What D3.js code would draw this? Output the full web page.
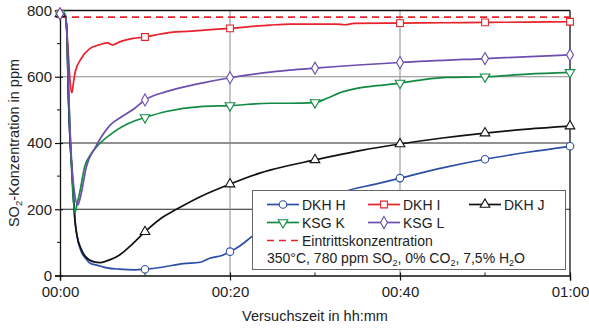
<!DOCTYPE html>
<html>
<head>
<meta charset="utf-8">
<script src="https://cdn.jsdelivr.net/npm/d3@7"></script>
<style>
  body { margin: 0; background: #fff; }
  svg { font-family: "Liberation Sans", Arial, sans-serif; }
</style>
</head>
<body>
<svg id="chart" width="589" height="328"></svg>
<script>
// Time in minutes, SO2 concentration in ppm
const hTime = [0, 0.6, 0.8, 1.0, 1.2, 1.4, 1.6, 1.75, 2.0, 2.5, 3.0, 3.5, 4.5, 5.5, 7.0, 8.8, 10, 12, 14.5, 16.5, 17.6, 19.2, 20, 21.2, 22.7, 26, 30, 34.1, 37, 40, 45, 50, 55, 60];
const hVal  = [790, 788, 740, 530, 400, 320, 230, 170, 120, 72, 52, 38, 30, 23, 19, 17, 19, 25, 36, 40, 52, 62, 72, 90, 120, 165, 210, 258, 275, 294, 325, 351, 372, 390];

const iTime = [0, 0.6, 0.8, 1.0, 1.2, 1.4, 1.6, 1.8, 2.5, 3.5, 4.7, 5.6, 6.2, 7.1, 8.6, 10, 11.8, 13.3, 15, 17, 20, 24.7, 27, 32.5, 33.5, 34.6, 40, 45, 50, 55, 60];
const iVal  = [790, 788, 740, 660, 580, 552, 585, 615, 655, 685, 697, 702, 696, 706, 716, 720, 729, 735, 737, 741, 746, 756, 759, 759, 757, 761, 762, 763, 764, 765, 766];

const jTime = [0, 0.6, 0.8, 1.0, 1.2, 1.4, 1.6, 1.75, 2.0, 2.5, 3.0, 4.0, 4.7, 5.5, 6.3, 7.0, 8.6, 10, 12.2, 13.7, 16.5, 20, 23.5, 24.7, 30, 35.3, 40, 45, 50, 55, 60];
const jVal  = [790, 788, 740, 530, 400, 320, 230, 170, 120, 80, 57, 41, 39, 44, 52, 62, 97, 132, 178, 200, 238, 276, 309, 318, 349, 377, 397, 415, 430, 442, 451];

const kTime = [0, 0.6, 0.8, 1.0, 1.2, 1.4, 1.6, 1.75, 2.0, 2.3, 2.9, 3.7, 4.5, 6.1, 8.8, 10, 12.5, 16.5, 20, 24.7, 27, 30, 31.4, 33.3, 34.9, 37.3, 40, 42.4, 45.5, 50, 55, 60];
const kVal  = [790, 788, 740, 560, 420, 300, 220, 190, 215, 248, 328, 369, 394, 429, 467, 477, 495, 510, 513, 520, 520, 522, 535, 555, 565, 573, 581, 590, 598, 600, 608, 613];

const lTime = [0, 0.6, 0.8, 1.0, 1.2, 1.4, 1.7, 2.1, 2.5, 3.1, 4.1, 5.9, 7.3, 8.8, 10, 12.5, 16.5, 20, 25, 27, 30, 40, 50, 60];
const lVal  = [790, 788, 740, 570, 430, 330, 250, 213, 248, 328, 384, 454, 480, 505, 530, 555, 580, 597, 615, 620, 626, 643, 655, 666];

const inletLevel = 780;
const seriesNames = ["DKH H", "DKH I", "DKH J", "KSG K", "KSG L"];
const xTicks = [0, 20, 40, 60];
const xMinorTicks = [10, 30, 50];
const yTicks = [0, 200, 400, 600, 800];
const yMinorTicks = [100, 300, 500, 700];
const markerTimes = [0, 10, 20, 30, 40, 50, 60];

const series = [
  { name: seriesNames[0], t: hTime, v: hVal, color: "#2c4fa6", symbol: d3.symbolCircle, size: 44 },
  { name: seriesNames[1], t: iTime, v: iVal, color: "#e8212b", symbol: d3.symbolSquare, size: 46 },
  { name: seriesNames[2], t: jTime, v: jVal, color: "#111111", symbol: d3.symbolTriangle, size: 40 },
  { name: seriesNames[3], t: kTime, v: kVal, color: "#138a43", symbol: d3.symbolTriangle, size: 40, flip: true },
  { name: seriesNames[4], t: lTime, v: lVal, color: "#6d4db0", symbol: d3.symbolDiamond, size: 42 }
];

const svg = d3.select("#chart");
const pLeft = 60, pRight = 570, pTop = 10.5, pBottom = 275.5;

const x = d3.scaleLinear().domain([0, 60]).range([pLeft, pRight]);
const y = d3.scaleLinear().domain([0, 800]).range([pBottom, pTop]);

const fmt = m => {
  const h = Math.floor(m / 60), mm = m % 60;
  return String(h).padStart(2, "0") + ":" + String(mm).padStart(2, "0");
};

// grid
const g = svg.append("g");
g.selectAll(".hg").data([200, 400, 600]).join("line")
  .attr("x1", pLeft).attr("x2", pRight)
  .attr("y1", d => y(d)).attr("y2", d => y(d))
  .attr("stroke", d => d === 600 ? "#8a8a8a" : "#222").attr("stroke-width", 1);
g.selectAll(".vg").data([20, 40]).join("line")
  .attr("x1", d => x(d)).attr("x2", d => x(d))
  .attr("y1", pTop).attr("y2", pBottom)
  .attr("stroke", "#8a8a8a").attr("stroke-width", 1);

// frame top/right
svg.append("line").attr("x1", pLeft).attr("x2", pRight).attr("y1", y(800)).attr("y2", y(800)).attr("stroke", "#111").attr("stroke-width", 1.3);
svg.append("line").attr("x1", pRight).attr("x2", pRight).attr("y1", pTop).attr("y2", pBottom).attr("stroke", "#111").attr("stroke-width", 1.3);

// axes
const xAxis = d3.axisBottom(x).tickValues(xTicks).tickFormat(fmt).tickSize(5).tickPadding(6);
const gx = svg.append("g").attr("transform", `translate(0,${pBottom})`).call(xAxis);
gx.selectAll("text").attr("font-size", 15).attr("fill", "#222").attr("font-family", "Liberation Sans, Arial, sans-serif");
gx.select(".domain").attr("stroke", "#111").attr("stroke-width", 1.3);
gx.selectAll(".tick line").attr("y1", -3).attr("stroke", "#111").attr("stroke-width", 1.2);
svg.append("g").selectAll("line").data(xMinorTicks).join("line")
  .attr("x1", d => x(d)).attr("x2", d => x(d)).attr("y1", pBottom - 3).attr("y2", pBottom)
  .attr("stroke", "#111");

const yAxis = d3.axisLeft(y).tickValues(yTicks).tickSize(5).tickPadding(3);
const gy = svg.append("g").attr("transform", `translate(${pLeft},0)`).call(yAxis);
gy.selectAll("text").attr("font-size", 15).attr("fill", "#222").attr("font-family", "Liberation Sans, Arial, sans-serif");
gy.select(".domain").attr("stroke", "#111").attr("stroke-width", 1.3);
gy.selectAll(".tick line").attr("x1", 3).attr("stroke", "#111").attr("stroke-width", 1.2);
svg.append("g").selectAll("line").data(yMinorTicks).join("line")
  .attr("x1", pLeft - 3).attr("x2", pLeft).attr("y1", d => y(d)).attr("y2", d => y(d))
  .attr("stroke", "#111");

// inlet concentration
svg.append("line").attr("x1", pLeft).attr("x2", pRight)
  .attr("y1", y(inletLevel)).attr("y2", y(inletLevel))
  .attr("stroke", "#e8212b").attr("stroke-width", 1.6).attr("stroke-dasharray", "7,5");

// curves
const line = d3.line().x(d => x(d[0])).y(d => y(d[1])).curve(d3.curveMonotoneX);
const plot = svg.append("g");
series.forEach(s => {
  const pts = s.t.map((t, i) => [t, s.v[i]]);
  plot.append("path").datum(pts).attr("d", line)
    .attr("fill", "none").attr("stroke", s.color).attr("stroke-width", 1.7);
});
series.forEach(s => {
  const pts = s.t.map((t, i) => [t, s.v[i]]).filter(p => markerTimes.includes(p[0]));
  plot.selectAll(null).data(pts).join("path")
    .attr("d", d3.symbol().type(s.symbol).size(s.size))
    .attr("transform", d => `translate(${x(d[0])},${y(d[1])})${s.flip ? " rotate(180)" : ""}`)
    .attr("fill", "#fff").attr("stroke", s.color).attr("stroke-width", 1.1);
});

// legend
const lg = svg.append("g");
lg.append("rect").attr("x", 252.5).attr("y", 190.5).attr("width", 313).attr("height", 79)
  .attr("fill", "#fff").attr("stroke", "#666").attr("stroke-width", 1);
const legPos = [[267, 204.5], [368, 204.5], [469, 204.5], [267, 222.5], [368, 222.5]];
series.forEach((s, i) => {
  const [lx, ly] = legPos[i];
  lg.append("line").attr("x1", lx).attr("x2", lx + 32).attr("y1", ly).attr("y2", ly)
    .attr("stroke", s.color).attr("stroke-width", 1.7);
  lg.append("path").attr("d", d3.symbol().type(s.symbol).size(s.size))
    .attr("transform", `translate(${lx + 16},${ly})${s.flip ? " rotate(180)" : ""}`)
    .attr("fill", "#fff").attr("stroke", s.color).attr("stroke-width", 1.1);
  lg.append("text").attr("x", lx + 35).attr("y", ly + 5).attr("font-size", 14).attr("fill", "#222").text(s.name);
});
lg.append("line").attr("x1", 267).attr("x2", 299).attr("y1", 240.5).attr("y2", 240.5)
  .attr("stroke", "#e8212b").attr("stroke-width", 1.6).attr("stroke-dasharray", "7,5");
lg.append("text").attr("x", 302).attr("y", 245.5).attr("font-size", 14).attr("fill", "#222").text("Eintrittskonzentration");

const cond = lg.append("text").attr("x", 267).attr("y", 263).attr("font-size", 14).attr("fill", "#222");
cond.append("tspan").text("350°C, 780 ppm SO");
cond.append("tspan").attr("dy", 3).attr("font-size", 9).text("2");
cond.append("tspan").attr("dy", -3).text(", 0% CO");
cond.append("tspan").attr("dy", 3).attr("font-size", 9).text("2");
cond.append("tspan").attr("dy", -3).text(", 7,5% H");
cond.append("tspan").attr("dy", 3).attr("font-size", 9).text("2");
cond.append("tspan").attr("dy", -3).text("O");

// axis titles
svg.append("text").attr("x", (pLeft + pRight) / 2).attr("y", 321)
  .attr("text-anchor", "middle").attr("font-size", 14.5).attr("fill", "#222")
  .text("Versuchszeit in hh:mm");

const yt = svg.append("text").attr("transform", `translate(19,${(pTop + pBottom) / 2}) rotate(-90)`)
  .attr("text-anchor", "middle").attr("font-size", 14.5).attr("fill", "#222");
yt.append("tspan").text("SO");
yt.append("tspan").attr("dy", 3).attr("font-size", 9.5).text("2");
yt.append("tspan").attr("dy", -3).text("-Konzentration in ppm");
</script>
</body>
</html>
